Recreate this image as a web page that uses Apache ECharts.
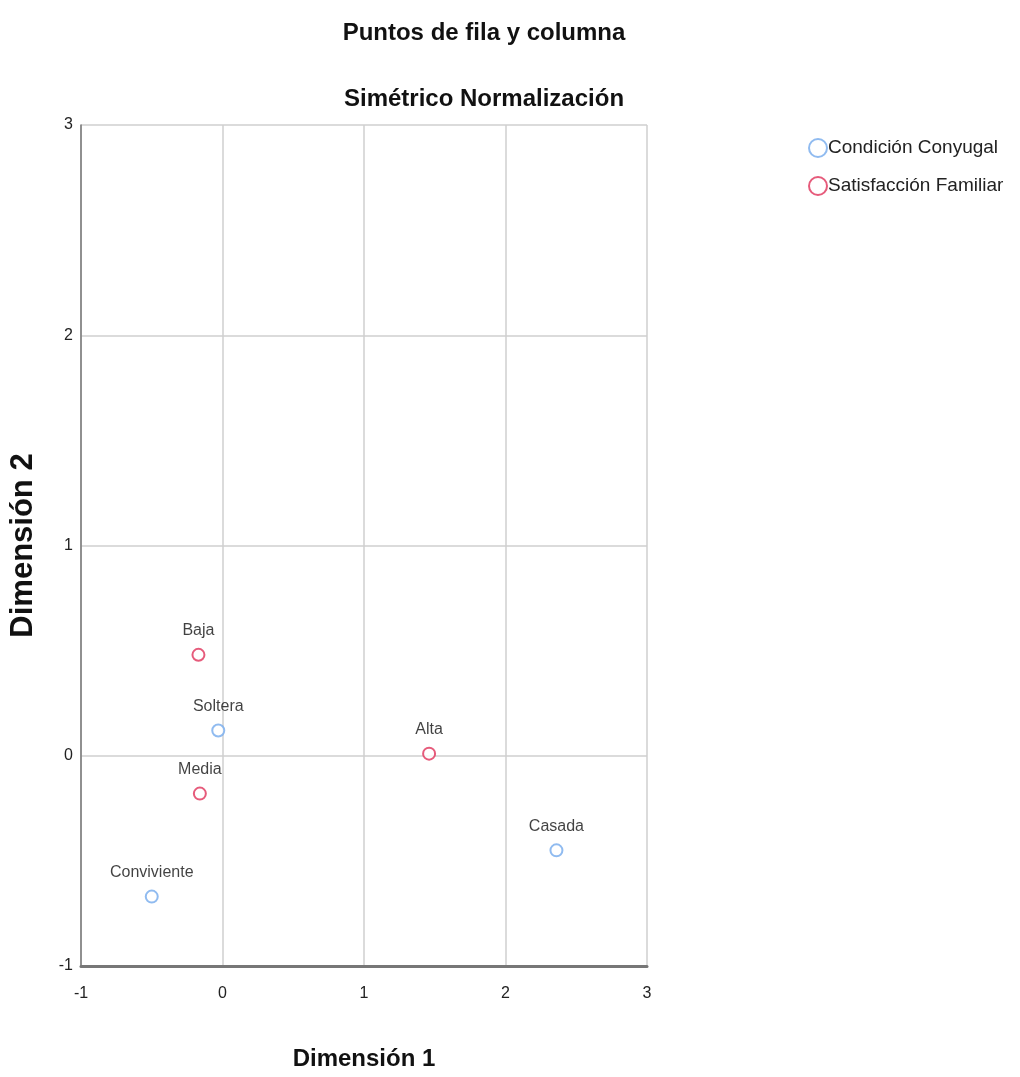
<!DOCTYPE html>
<html>
<head>
<meta charset="utf-8">
<script src="https://cdn.jsdelivr.net/npm/echarts@6/dist/echarts.min.js"></script>
<style>html,body{margin:0;padding:0;background:#fff}#c{width:1020px;height:1077px}</style>
</head>
<body>
<div id="c"></div>
<script>
const titleLines = ['Puntos de fila y columna', 'Simétrico Normalización'];
const xName = 'Dimensión 1';
const yName = 'Dimensión 2';
const seriesNames = ['Condición Conyugal', 'Satisfacción Familiar'];
const condLabels = ['Soltera', 'Casada', 'Conviviente'];
const condX = [-0.03, 2.36, -0.50];
const condY = [0.12, -0.45, -0.67];
const satLabels = ['Baja', 'Media', 'Alta'];
const satX = [-0.17, -0.16, 1.46];
const satY = [0.48, -0.18, 0.01];
const axisTicks = [-1, 0, 1, 2, 3];

const font = '"Liberation Sans", Arial, sans-serif';
const toPts = (xs, ys, ls) => xs.map((x, i) => ({ value: [x, ys[i]], name: ls[i] }));

const chart = echarts.init(document.getElementById('c'), null, { renderer: 'canvas' });
const labelStyle = { show: true, position: 'top', distance: 9, formatter: p => p.name, color: '#111', fontSize: 16, fontFamily: font };
chart.setOption({
  animation: false,
  backgroundColor: '#fff',
  title: [
    { text: titleLines[0], left: 479, top: 16, textAlign: 'center', textStyle: { fontSize: 24, fontWeight: 'bold', fontFamily: font, color: '#111' } },
    { text: titleLines[1], left: 479, top: 82, textAlign: 'center', textStyle: { fontSize: 24, fontWeight: 'bold', fontFamily: font, color: '#111' } }
  ],
  legend: {
    orient: 'vertical', left: 803, top: 133, itemGap: 18, itemWidth: 18, itemHeight: 18,
    icon: 'emptyCircle',
    textStyle: { fontSize: 19, fontFamily: font, color: '#222', padding: [0, 0, 0, -4] },
    data: seriesNames
  },
  grid: { left: 81, right: 373, top: 125, bottom: 111, containLabel: false, outerBoundsMode: 'none' },
  xAxis: {
    type: 'value', min: axisTicks[0], max: axisTicks[axisTicks.length - 1], interval: 1,
    name: xName, nameLocation: 'middle', nameGap: 81,
    nameTextStyle: { fontSize: 24, fontWeight: 'bold', fontFamily: font, color: '#111' },
    axisLine: { show: true, onZero: false, lineStyle: { color: '#777', width: 3 } },
    axisTick: { show: false },
    axisLabel: { fontSize: 16, fontFamily: font, color: '#222', margin: 20 },
    splitLine: { show: true, lineStyle: { color: '#cfcfcf', width: 1.5 } }
  },
  yAxis: {
    type: 'value', min: axisTicks[0], max: axisTicks[axisTicks.length - 1], interval: 1,
    name: yName, nameLocation: 'middle', nameGap: 42, nameRotate: 90,
    nameTextStyle: { fontSize: 31, fontWeight: 'bold', fontFamily: font, color: '#111' },
    axisLine: { show: true, onZero: false, lineStyle: { color: '#777', width: 1.5 } },
    axisTick: { show: false },
    axisLabel: { fontSize: 16, fontFamily: font, color: '#222', margin: 8 },
    splitLine: { show: true, lineStyle: { color: '#cfcfcf', width: 1.5 } }
  },
  series: [
    { name: seriesNames[0], type: 'scatter', symbol: 'emptyCircle', symbolSize: 12,
      itemStyle: { color: '#74aaec', borderColor: '#74aaec', borderWidth: 2 },
      label: labelStyle, data: toPts(condX, condY, condLabels) },
    { name: seriesNames[1], type: 'scatter', symbol: 'emptyCircle', symbolSize: 12,
      itemStyle: { color: '#e0325a', borderColor: '#e0325a', borderWidth: 2 },
      label: labelStyle, data: toPts(satX, satY, satLabels) }
  ]
});
</script>
</body>
</html>
